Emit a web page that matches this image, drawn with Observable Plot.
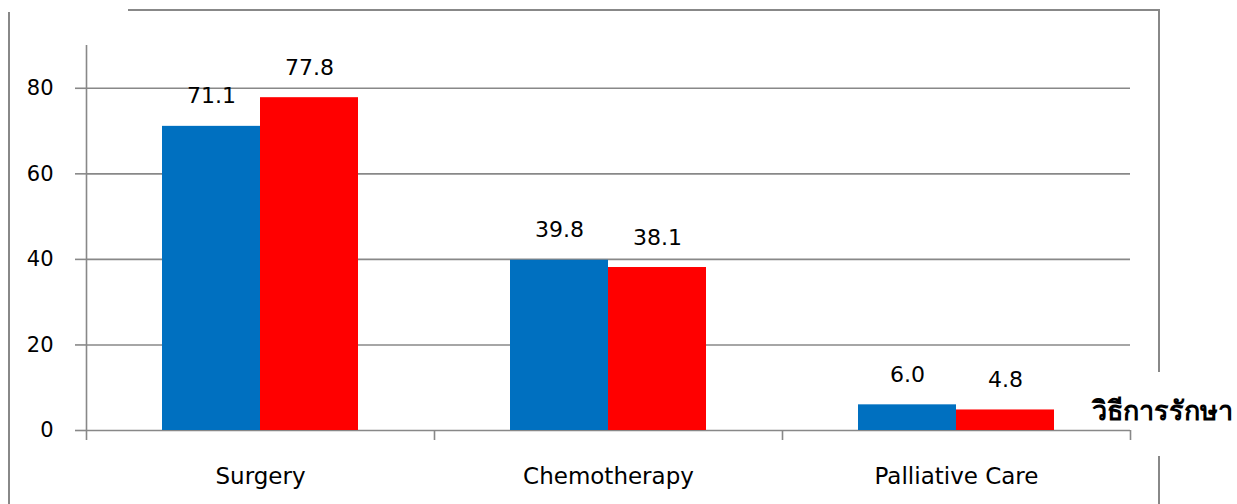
<!DOCTYPE html>
<html>
<head>
<meta charset="utf-8">
<script src="https://cdn.jsdelivr.net/npm/d3@7"></script>
<script src="https://cdn.jsdelivr.net/npm/@observablehq/plot@0.6"></script>
<style>
  html, body { margin: 0; padding: 0; background: #fff; }
  #wrap { position: relative; width: 1237px; height: 504px; overflow: hidden; font-family: "DejaVu Sans", "Noto Sans", sans-serif; }
  #chart { position: absolute; left: 0; top: 0; }
  .fr { position: absolute; background: #888; }
  #title { position: absolute; left: 1092px; top: 397px; font-size: 27px; font-weight: bold; color: #000; white-space: nowrap; line-height: 1; }
</style>
</head>
<body>
<div id="wrap">
  <div class="fr" style="left:128px; top:9px; width:1032px; height:2px;"></div>
  <div class="fr" style="left:8px; top:12px; width:2px; height:492px;"></div>
  <div class="fr" style="left:1158px; top:9px; width:2px; height:363px;"></div>
  <div class="fr" style="left:1158px; top:456px; width:2px; height:48px;"></div>
  <div id="chart"></div>
  <div id="title">วิธีการรักษา</div>
</div>
<script>
const categories = ["Surgery", "Chemotherapy", "Palliative Care"];
const seriesNames = ["Series 1", "Series 2"];
const series1Values = [71.1, 39.8, 6.0];
const series2Values = [77.8, 38.1, 4.8];
const yTicks = [0, 20, 40, 60, 80];
const seriesColors = ["#0070C0", "#FF0000"];

const data = categories.flatMap((c, i) => [
  {category: c, series: seriesNames[0], value: series1Values[i]},
  {category: c, series: seriesNames[1], value: series2Values[i]}
]);

const W = 1237, H = 504, mL = 86, mR = 107, mT = 45, mB = 74;
const half = (W - mL - mR) / categories.length / 2;
const gray = "#888888";

const chart = Plot.plot({
  width: W, height: H,
  marginLeft: mL, marginRight: mR, marginTop: mT, marginBottom: mB,
  style: {fontFamily: '"DejaVu Sans", "Noto Sans", sans-serif', fontSize: "21px", color: "#000", background: "transparent", overflow: "visible"},
  fx: {domain: categories, padding: 0, label: null, axis: null},
  x: {domain: seriesNames, paddingInner: 0, paddingOuter: 0.76, axis: null},
  y: {domain: [0, 90], label: null},
  color: {domain: seriesNames, range: seriesColors},
  marks: [
    Plot.gridY(yTicks, {stroke: gray, strokeOpacity: 1, strokeWidth: 1.6}),
    Plot.ruleX([categories[0]], {fx: d => d, x: null, dx: -half, y1: 90, y2: 0, insetBottom: -10, stroke: gray, strokeWidth: 1.6}),
    Plot.ruleX(categories.slice(1), {fx: d => d, x: null, dx: -half, y1: 0, y2: 0, insetBottom: -10, stroke: gray, strokeWidth: 1.6}),
    Plot.ruleX([categories[categories.length - 1]], {fx: d => d, x: null, dx: half, y1: 0, y2: 0, insetBottom: -10, stroke: gray, strokeWidth: 1.6}),
    Plot.axisY(yTicks, {tickSize: 11, tickPadding: 22, stroke: gray, strokeWidth: 1.6, fontSize: 21, label: null}),
    Plot.axisFx({anchor: "bottom", tickSize: 0, tickPadding: 37, fontSize: 23, label: null}),
    Plot.barY(data, {fx: "category", x: "series", y: "value", fill: "series"}),
    Plot.text(data, {fx: "category", x: "series", y: "value", text: d => d.value.toFixed(1), dy: -30, fontSize: 22, fill: "#000"})
  ]
});
document.getElementById("chart").appendChild(chart);
</script>
</body>
</html>
